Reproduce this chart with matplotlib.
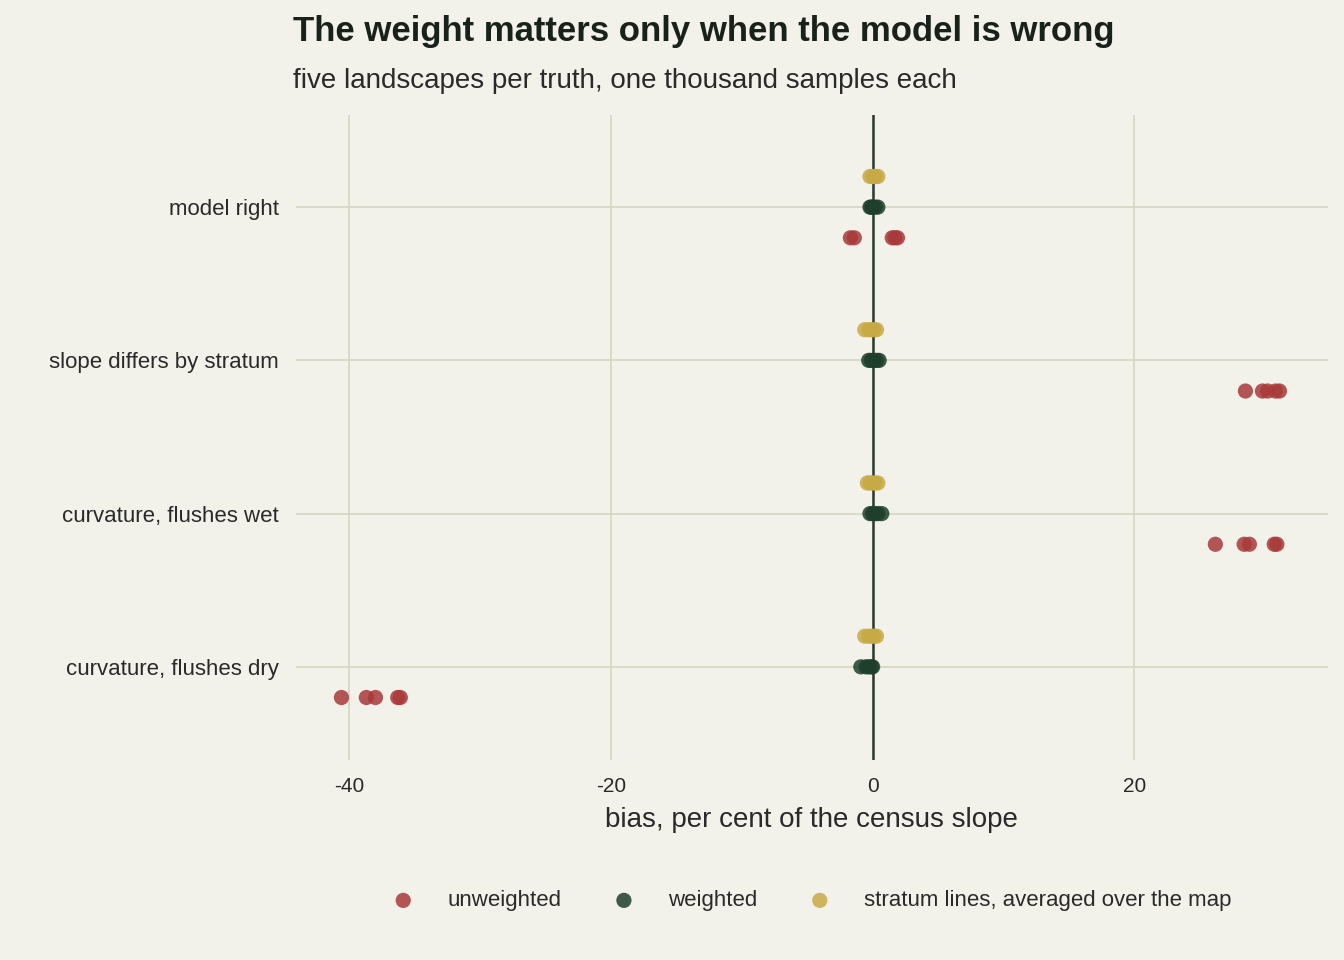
import matplotlib.pyplot as plt
import numpy as np

plt.rcParams['font.family'] = ['Liberation Sans', 'DejaVu Sans']

truths = ["curvature, flushes dry", "curvature, flushes wet", "slope differs by stratum", "model right"]

unweighted = [
    [-40.6, -38.7, -38.0, -36.3, -36.1],
    [26.2, 28.4, 28.8, 30.7, 30.9],
    [28.5, 29.8, 30.2, 30.8, 31.1],
    [-1.7, -1.4, 1.5, 1.7, 1.9],
]
weighted = [
    [-0.9, -0.5, -0.3, -0.1, 0.0],
    [-0.2, 0.0, 0.2, 0.4, 0.7],
    [-0.3, -0.1, 0.1, 0.3, 0.5],
    [-0.2, -0.1, 0.0, 0.2, 0.4],
]
stratum = [
    [-0.6, -0.3, -0.1, 0.1, 0.3],
    [-0.4, -0.2, 0.0, 0.2, 0.4],
    [-0.6, -0.3, -0.1, 0.1, 0.3],
    [-0.2, 0.0, 0.1, 0.2, 0.4],
]

bg = "#f2f1ea"
fig = plt.figure(figsize=(13.44, 9.6), dpi=100, facecolor=bg)
ax = fig.add_axes([0.22, 0.208, 0.768, 0.672], facecolor=bg)

series = [(unweighted, "#a83a3a", -0.2, "unweighted"),
          (weighted, "#1e3f2b", 0.0, "weighted"),
          (stratum, "#c8aa45", 0.2, "stratum lines, averaged over the map")]
for vals, col, off, lab in series:
    for i, v in enumerate(vals):
        ax.scatter(v, np.full(len(v), i + off), s=120, color=col, alpha=0.85,
                   edgecolors="none", zorder=3, label=lab if i == 0 else None)

ax.axvline(0, color="#2a3a30", lw=1.8, zorder=2)
ax.set_yticks(range(4))
ax.set_yticklabels(truths, fontsize=16, color="#2a2a2a")
ax.set_xticks([-40, -20, 0, 20])
ax.set_xticklabels(["-40", "-20", "0", "20"], fontsize=15, color="#2a2a2a")
ax.set_xlim(-44.1, 34.8)
ax.set_ylim(-0.61, 3.6)
ax.grid(True, color="#d6d6c2", lw=1.2, zorder=0)
ax.tick_params(length=0, pad=12)
for s in ax.spines.values():
    s.set_visible(False)
ax.set_xlabel("bias, per cent of the census slope", fontsize=20, color="#2a2a2a", labelpad=8)

fig.text(0.218, 0.950, "The weight matters only when the model is wrong", fontsize=25,
         fontweight="bold", color="#18221a", va="bottom")
fig.text(0.218, 0.902, "five landscapes per truth, one thousand samples each", fontsize=20,
         color="#2a2a2a", va="bottom")
leg = fig.legend(loc="lower center", bbox_to_anchor=(0.6, 0.03), ncol=3, frameon=False,
                 fontsize=16, handletextpad=1.0, columnspacing=1.8)
for t in leg.get_texts():
    t.set_color("#2a2a2a")
fig.savefig("out.png", dpi=100, facecolor=bg)
